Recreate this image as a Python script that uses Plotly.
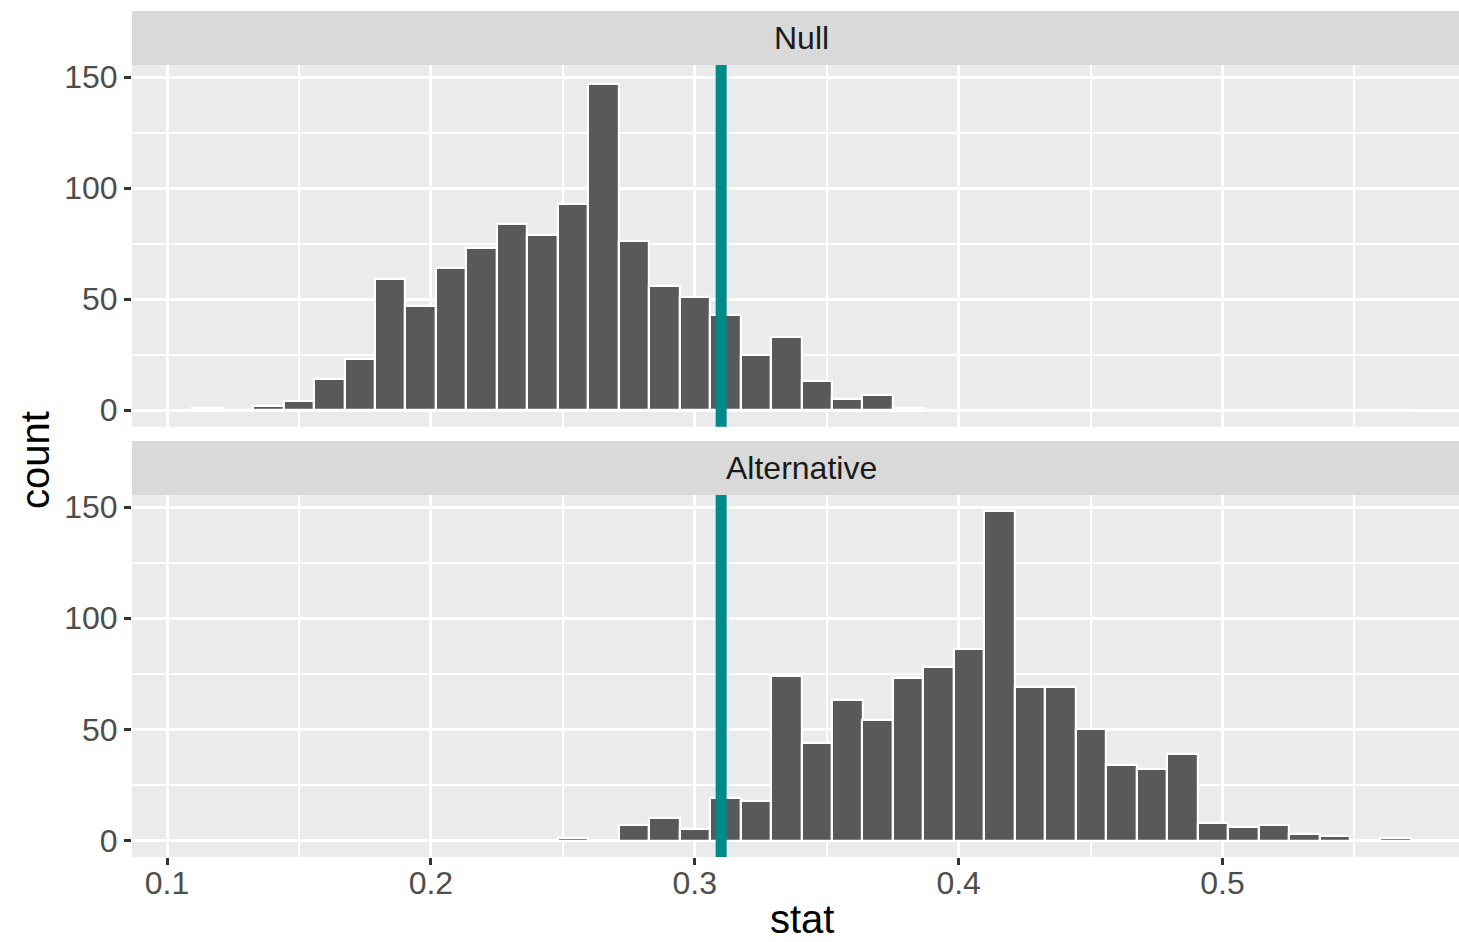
import plotly.graph_objects as go

# ---------------- data ----------------
bin_centers = [0.11531, 0.12686, 0.13840, 0.14995, 0.16150, 0.17305, 0.18459, 0.19614,
               0.20769, 0.21923, 0.23078, 0.24233, 0.25387, 0.26542, 0.27697, 0.28852,
               0.30006, 0.31161, 0.32316, 0.33470, 0.34625, 0.35780, 0.36934, 0.38089,
               0.39244, 0.40399, 0.41553, 0.42708, 0.43863, 0.45017, 0.46172, 0.47327,
               0.48481, 0.49636, 0.50791, 0.51946, 0.53100, 0.54255, 0.55410, 0.56564]
bin_width = 0.011547

null_counts = [1, 0, 2, 4, 14, 23, 59, 47, 64, 73, 84, 79, 93, 147, 76, 56,
               51, 43, 25, 33, 13, 5, 7, 1, 0, 0, 0, 0, 0, 0, 0, 0,
               0, 0, 0, 0, 0, 0, 0, 0]
alt_counts = [0, 0, 0, 0, 0, 0, 0, 0, 0, 0, 0, 0, 1, 0, 7, 10,
              5, 19, 18, 74, 44, 63, 54, 73, 78, 86, 148, 69, 69, 50, 34, 32,
              39, 8, 6, 7, 3, 2, 0, 1]

facet_labels = ["Null", "Alternative"]
observed_stat = 0.31

x_ticks = [0.1, 0.2, 0.3, 0.4, 0.5]
x_tick_text = ["0.1", "0.2", "0.3", "0.4", "0.5"]
y_ticks = [0, 50, 100, 150]
y_tick_text = ["0", "50", "100", "150"]

# ---------------- layout geometry ----------------
W, H = 1459, 942
M_T, M_B, M_L, M_R = 11, 85, 132, 0
PLOT_H = H - M_T - M_B
PLOT_W = W - M_L - M_R


def py(p):
    """pixel y (from top of image) -> paper fraction"""
    return (H - M_B - p) / PLOT_H


def px(p):
    return (p - M_L) / PLOT_W


panel1 = [py(426.7), py(65)]
panel2 = [0, py(495)]
strip1 = [py(65), 1]
strip2 = [py(495), py(441)]

FONT = "Liberation Sans, Arial, Helvetica, sans-serif"
BAR_FILL = "#595959"
LINE_COL = "#008B8B"

fig = go.Figure()

fig.add_trace(go.Bar(x=bin_centers, y=null_counts, width=bin_width,
                     marker=dict(color=BAR_FILL, line=dict(color="white", width=2.2)),
                     xaxis="x2", yaxis="y2", showlegend=False, hoverinfo="x+y"))
fig.add_trace(go.Bar(x=bin_centers, y=alt_counts, width=bin_width,
                     marker=dict(color=BAR_FILL, line=dict(color="white", width=2.2)),
                     xaxis="x", yaxis="y", showlegend=False, hoverinfo="x+y"))

x_range = [0.086736, 0.589626]
y_range = [-7.4, 155.4]

common_x = dict(range=x_range, autorange=False, showgrid=True, gridcolor="white",
                gridwidth=3, zeroline=False, showline=False,
                tickmode="array", tickvals=x_ticks, ticktext=x_tick_text,
                minor=dict(tickmode="array", tickvals=[0.15, 0.25, 0.35, 0.45, 0.55],
                           showgrid=True, gridcolor="white", gridwidth=1.7, ticks=""))
common_y = dict(range=y_range, autorange=False, showgrid=True, gridcolor="white",
                gridwidth=3, zeroline=False, showline=False,
                tickmode="array", tickvals=y_ticks, ticktext=y_tick_text,
                ticks="outside", ticklen=7, tickwidth=2.5, tickcolor="#333333",
                tickfont=dict(family=FONT, size=32, color="#4D4D4D"),
                minor=dict(tickmode="array", tickvals=[25, 75, 125],
                           showgrid=True, gridcolor="white", gridwidth=1.7, ticks=""))

fig.update_layout(
    width=W, height=H,
    margin=dict(t=M_T, b=M_B, l=M_L, r=M_R, pad=0),
    paper_bgcolor="white", plot_bgcolor="#EBEBEB",
    bargap=0, barmode="overlay",
    font=dict(family=FONT),
    xaxis=dict(domain=[0, 1], anchor="y", ticks="outside", ticklen=7, tickwidth=2.5,
               tickcolor="#333333", tickfont=dict(family=FONT, size=32, color="#4D4D4D"),
               ticklabelstandoff=-9, **common_x),
    xaxis2=dict(domain=[0, 1], anchor="y2", matches="x", showticklabels=False, ticks="",
                **common_x),
    yaxis=dict(domain=panel2, anchor="x", **common_y),
    yaxis2=dict(domain=panel1, anchor="x2", **common_y),
)

shapes = []
# facet strips
for (y0, y1) in (strip1, strip2):
    shapes.append(dict(type="rect", xref="paper", yref="paper", x0=0, x1=1, y0=y0, y1=y1,
                       fillcolor="#D9D9D9", line=dict(width=0), layer="below"))
# observed statistic line in each panel
for xr, yr in (("x2", "y2 domain"), ("x", "y domain")):
    shapes.append(dict(type="line", xref=xr, yref=yr, x0=observed_stat, x1=observed_stat,
                       y0=0, y1=1, line=dict(color=LINE_COL, width=11), layer="above"))
fig.update_layout(shapes=shapes)

annotations = [
    dict(text=facet_labels[0], xref="paper", yref="paper", x=px(802),
         y=(strip1[0] + strip1[1]) / 2, xanchor="center", yanchor="middle",
         showarrow=False, font=dict(family=FONT, size=32, color="#1A1A1A")),
    dict(text=facet_labels[1], xref="paper", yref="paper", x=px(802),
         y=(strip2[0] + strip2[1]) / 2, xanchor="center", yanchor="middle",
         showarrow=False, font=dict(family=FONT, size=32, color="#1A1A1A")),
    dict(text="count", xref="paper", yref="paper", x=px(35), y=py(460),
         xanchor="center", yanchor="middle", textangle=-90, showarrow=False,
         font=dict(family=FONT, size=40, color="black")),
    dict(text="stat", xref="paper", yref="paper", x=px(802), y=py(919),
         xanchor="center", yanchor="middle", showarrow=False, borderpad=0,
         font=dict(family=FONT, size=40, color="black")),
]
fig.update_layout(annotations=annotations)

fig.write_html("out.html", config={"displayModeBar": False},
               post_script="document.body.style.margin='0';document.body.style.overflow='hidden';")
